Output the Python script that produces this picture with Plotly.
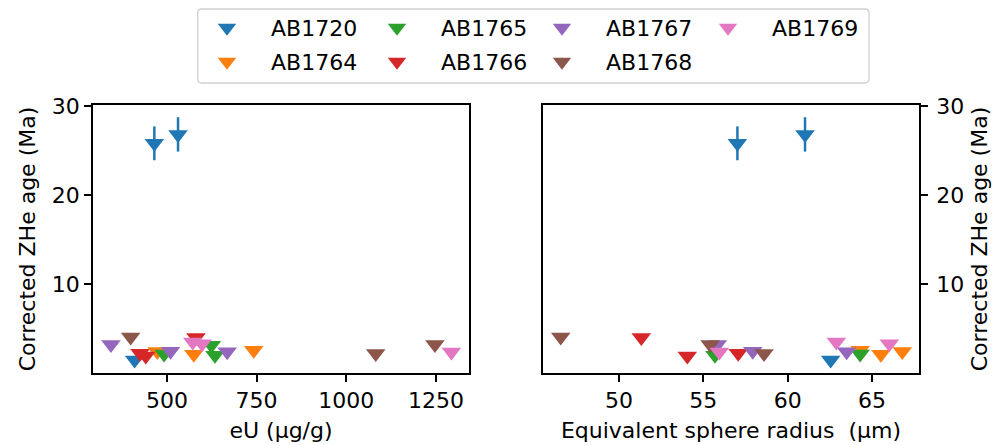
import plotly.graph_objects as go

# ---- data ----
samples = ["AB1720", "AB1764", "AB1765", "AB1766", "AB1767", "AB1768", "AB1769"]
colors = ["#1f77b4", "#ff7f0e", "#2ca02c", "#d62728", "#9467bd", "#8c564b", "#e377c2"]

point_sample = ["AB1720", "AB1720", "AB1720",
                "AB1764", "AB1764", "AB1764",
                "AB1765", "AB1765", "AB1765",
                "AB1766", "AB1766", "AB1766",
                "AB1767", "AB1767", "AB1767",
                "AB1768", "AB1768", "AB1768",
                "AB1769", "AB1769", "AB1769"]
eU = [465, 531, 410,
      473, 575, 742,
      492, 634, 624,
      581, 441, 425,
      344, 510, 668,
      399, 1082, 1247,
      572, 598, 1293]
rs = [57.02, 61.03, 62.55,
      66.8, 65.53, 64.3,
      64.3, 55.69, 55.6,
      51.32, 54.05, 57.07,
      55.83, 57.93, 63.5,
      46.54, 58.6, 55.4,
      62.89, 66.03, 55.95]
age = [25.8, 26.8, 1.5,
       2.45, 2.12, 2.58,
       2.15, 2.02, 3.15,
       4.0, 1.95, 2.25,
       3.22, 2.47, 2.42,
       4.08, 2.21, 3.22,
       3.52, 3.3, 2.4]
age_err = [1.9, 1.93, 0.12,
           0.15, 0.14, 0.17,
           0.14, 0.13, 0.2,
           0.25, 0.12, 0.14,
           0.2, 0.16, 0.15,
           0.26, 0.14, 0.2,
           0.22, 0.21, 0.15]

# legend grid like matplotlib ncol=4 (filled column by column)
legend_col = [0, 0, 1, 1, 2, 2, 3]
legend_row = [0, 1, 0, 1, 0, 1, 0]

x_ticks_left = [500, 750, 1000, 1250]
x_ticks_right = [50, 55, 60, 65]
y_ticks = [10, 20, 30]

FONT = "DejaVu Sans"
W, H = 1002, 445
L, R, T, B = 93, 83, 105, 72
pw, ph = W - L - R, H - T - B
COL_MARKER_PX = [227, 397, 562, 728]
ROW_PX = [28, 62]
ITEMW = 78


def px2x(p):
    return (p - L) / pw


def px2y(p):
    return (H - B - p) / ph


fig = go.Figure()
legends = {}
for k, (s, c) in enumerate(zip(samples, colors)):
    idx = [i for i, ps in enumerate(point_sample) if ps == s]
    xs1 = [eU[i] for i in idx]
    xs2 = [rs[i] for i in idx]
    ys = [age[i] for i in idx]
    es = [age_err[i] for i in idx]
    leg = "legend" if k == 0 else f"legend{k + 1}"
    legends[leg] = dict(
        orientation="v", xanchor="left", yanchor="middle",
        x=px2x(COL_MARKER_PX[legend_col[k]] - (5 + ITEMW / 2)),
        y=px2y(ROW_PX[legend_row[k]]),
        bgcolor="rgba(0,0,0,0)", borderwidth=0, itemwidth=ITEMW,
        font=dict(family=FONT, size=22, color="black"))
    marker = dict(symbol="triangle-down", size=17, color=c, line=dict(width=0))
    err = dict(type="data", array=es, visible=True, color=c, thickness=2.5, width=0)
    fig.add_trace(go.Scatter(x=xs1, y=ys, mode="markers", name=s, marker=marker,
                             error_y=err, xaxis="x", yaxis="y", legend=leg,
                             legendgroup=s, showlegend=True))
    fig.add_trace(go.Scatter(x=xs2, y=ys, mode="markers", name=s, marker=marker,
                             error_y=err, xaxis="x2", yaxis="y2", legend=leg,
                             legendgroup=s, showlegend=False))

axis_common = dict(showline=True, linecolor="black", linewidth=1.5, mirror=True,
                   ticks="outside", ticklen=7, tickwidth=1.5, tickcolor="black",
                   showgrid=False, zeroline=False,
                   tickfont=dict(family=FONT, size=22, color="black"))

fig.update_layout(
    width=W, height=H,
    margin=dict(l=L, r=R, t=T, b=B, autoexpand=False),
    paper_bgcolor="white", plot_bgcolor="white",
    font=dict(family=FONT, size=22, color="black"),
    xaxis=dict(domain=[0, px2x(469)], range=[294, 1342], tickvals=x_ticks_left,
               title=dict(text="eU (µg/g)", standoff=10, font=dict(size=22)),
               anchor="y", **axis_common),
    yaxis=dict(domain=[0, 1], range=[0.03, 30.1], tickvals=y_ticks,
               title=dict(text="Corrected ZHe age (Ma)", standoff=10, font=dict(size=22)),
               anchor="x", **axis_common),
    xaxis2=dict(domain=[px2x(543), 1], range=[45.49, 67.79], tickvals=x_ticks_right,
                title=dict(text="Equivalent sphere radius\u00a0\u00a0(µm)", standoff=10,
                           font=dict(size=22)),
                anchor="y2", **axis_common),
    yaxis2=dict(domain=[0, 1], range=[0.03, 30.1], tickvals=y_ticks, side="right",
                ticklabelstandoff=4,
                title=dict(text="Corrected ZHe age (Ma)", standoff=8, font=dict(size=22)),
                anchor="x2", **axis_common),
    showlegend=True,
    **legends,
)

# legend frame (rounded rectangle, matplotlib style)
x0, x1 = px2x(197.7), px2x(869)
y0, y1 = px2y(83), px2y(9)
dx, dy = 4 / pw, 4 / ph
path = (f"M{x0+dx},{y0} L{x1-dx},{y0} Q{x1},{y0} {x1},{y0+dy} L{x1},{y1-dy} "
        f"Q{x1},{y1} {x1-dx},{y1} L{x0+dx},{y1} Q{x0},{y1} {x0},{y1-dy} "
        f"L{x0},{y0+dy} Q{x0},{y0} {x0+dx},{y0} Z")
fig.add_shape(type="path", path=path, xref="paper", yref="paper",
              line=dict(color="#d0d0d0", width=1.3), fillcolor="rgba(255,255,255,0.8)",
              layer="below")

fig.write_html("out.html", config={"displayModeBar": False},
               post_script="document.body.style.margin='0';")
